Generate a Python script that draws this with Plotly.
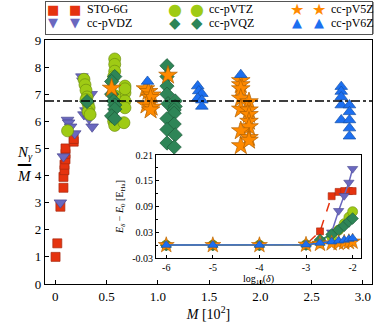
import plotly.graph_objects as go

# ---------------- data (main panel) ----------------
names = ["STO-6G", "cc-pVDZ", "cc-pVTZ", "cc-pVQZ", "cc-pV5Z", "cc-pV6Z"]

sto_x = [0.003, 0.02, 0.05, 0.08, 0.08, 0.09, 0.09, 0.10, 0.10, 0.10, 0.18, 0.18]
sto_y = [1.0, 1.5, 2.85, 3.55, 3.95, 4.2, 4.4, 4.6, 4.8, 5.0, 5.25, 5.35]

dz_x = [0.05, 0.08, 0.12, 0.13, 0.15, 0.19, 0.26, 0.27, 0.28, 0.30, 0.33, 0.36, 0.35]
dz_y = [3.0, 4.7, 6.05, 5.95, 5.8, 5.55, 7.65, 7.5, 6.25, 6.4, 6.1, 5.8, 7.0]

tz_x = [0.12, 0.28, 0.29, 0.30, 0.31, 0.32, 0.33, 0.32, 0.34, 0.30,
        0.58, 0.58, 0.58, 0.57, 0.68, 0.68, 0.68, 0.68, 0.57, 0.58, 0.67, 0.68, 0.58]
tz_y = [5.65, 7.55, 7.35, 7.15, 6.9, 6.65, 6.5, 6.35, 6.25, 6.8,
        8.3, 8.1, 7.85, 7.65, 7.3, 7.05, 6.75, 6.5, 6.0, 5.85, 5.95, 7.2, 6.95]

qz_x = [0.31, 0.58, 0.55, 0.55, 0.57, 0.58, 0.58, 0.55, 0.58,
        1.09, 1.09, 1.09, 1.09, 1.10, 1.17, 1.17, 1.16, 1.16, 1.09, 1.16, 1.09, 1.17, 1.09, 1.16]
qz_y = [6.73, 7.65, 7.47, 7.0, 6.75, 6.6, 6.45, 6.2, 6.1,
        8.05, 7.65, 7.3, 7.0, 6.65, 6.75, 6.55, 6.42, 6.3, 6.1, 5.9, 5.7, 5.5, 5.2, 5.05]

v5_x = [0.55, 1.10, 0.88, 0.91, 0.94, 0.93, 0.89, 0.94, 0.93,
        1.81, 1.81, 1.81, 1.81, 1.89, 1.81, 1.89, 1.89, 1.89, 1.89, 1.81, 1.89, 1.81, 1.89]
v5_y = [7.22, 7.7, 7.2, 7.1, 6.97, 6.88, 6.6, 6.52, 6.42,
        7.5, 7.35, 7.2, 6.85, 6.72, 6.45, 6.42, 6.25, 6.0, 5.8, 5.65, 5.4, 5.1, 5.3]

v6_x = [0.90, 1.39, 1.40, 1.43, 1.39, 1.43, 1.43, 1.81,
        2.79, 2.79, 2.79, 2.79, 2.87, 2.87, 2.79, 2.87, 2.87, 2.87]
v6_y = [7.47, 7.3, 7.12, 7.02, 6.85, 6.78, 6.55, 7.72,
        7.28, 7.1, 6.9, 6.6, 6.6, 6.35, 6.05, 6.05, 5.75, 5.45]

ref_line = 6.75
x_ticks = [0, 0.5, 1.0, 1.5, 2.0, 2.5, 3.0]
x_ticklabels = ["0", "0.5", "1.0", "1.5", "2.0", "2.5", "3.0"]
y_ticks = [0, 1, 2, 3, 4, 5, 6, 7, 8, 9]

# ---------------- data (inset) ----------------
log_delta = [-6, -5, -4, -3, -2.7, -2.45, -2.3, -2.18, -2.08, -2.0]
err_sto = [0.0, 0.0, 0.0, 0.001, 0.032, 0.114, 0.124, 0.126, 0.126, 0.126]
err_dz = [0.0, 0.0, 0.0, 0.001, 0.006, 0.03, 0.08, 0.115, 0.146, 0.178]
err_tz = [0.0, 0.0, 0.0, 0.001, 0.005, 0.02, 0.035, 0.05, 0.065, 0.078]
err_qz = [0.0, 0.0, 0.0, 0.001, 0.012, 0.025, 0.035, 0.045, 0.055, 0.062]
err_5z = [0.0, 0.0, 0.0, 0.001, 0.003, 0.004, 0.005, 0.006, 0.007, 0.008]
err_6z = [0.0, 0.0, 0.0, 0.001, 0.005, 0.008, 0.01, 0.012, 0.014, 0.016]
inset_xticks = [-6, -5, -4, -3, -2]
inset_xticklabels = ["-6", "-5", "-4", "-3", "-2"]
inset_yticks = [-0.03, 0.03, 0.09, 0.15, 0.21]
inset_yticklabels = ["-0.03", "0.03", "0.09", "0.15", "0.21"]

# ---------------- styles ----------------
colors = ["#e5330f", "#6a68bf", "#9fcb14", "#2e8557", "#ff8a00", "#1c6ff0"]
edges = ["#a82a10", "#4a4890", "#6f8f10", "#1f5a3a", "#b06000", "#1450a8"]
symbols = ["square", "triangle-down", "circle", "diamond", "star", "triangle-up"]
sizes = [9, 11, 12, 11, 14, 11]
glyphs = ["■", "▼", "●", "◆", "★", "▲"]
glyph_sizes = [13, 13, 16, 15, 16, 13]
inset_dash = ["dash", "solid", "dash", "solid", "solid", "solid"]
FONT = "Liberation Serif"

main_x = [sto_x, dz_x, tz_x, qz_x, v5_x, v6_x]
main_y = [sto_y, dz_y, tz_y, qz_y, v5_y, v6_y]
inset_y = [err_sto, err_dz, err_tz, err_qz, err_5z, err_6z]

fig = go.Figure()

for i in range(6):
    fig.add_trace(go.Scatter(
        x=main_x[i], y=main_y[i], mode="markers", name=names[i], showlegend=False,
        marker=dict(symbol=symbols[i], size=sizes[i], color=colors[i],
                    line=dict(color=edges[i], width=0.7)),
        xaxis="x", yaxis="y"))

# reference line
fig.add_trace(go.Scatter(
    x=[-0.1, 3.09], y=[ref_line, ref_line], mode="lines", showlegend=False,
    line=dict(color="black", width=1.3, dash="dashdot"), xaxis="x", yaxis="y"))

for i in range(6):
    fig.add_trace(go.Scatter(
        x=log_delta, y=inset_y[i], mode="lines+markers", showlegend=False,
        line=dict(color=colors[i], width=1.5, dash=inset_dash[i]),
        marker=dict(symbol=symbols[i], size=sizes[i] - 2, color=colors[i],
                    line=dict(color=edges[i], width=0.6)),
        xaxis="x2", yaxis="y2"))

W, H = 374, 328
L, R, T, B = 45, 2, 40, 44
pw, ph = W - L - R, H - T - B

def px_x(p):
    return (p - L) / pw

def px_y(p):
    return (H - B - p) / ph

axis_common = dict(showline=True, mirror=True, linecolor="black",
                   ticks="inside", tickcolor="black", showgrid=False, zeroline=False)

fig.update_layout(
    width=W, height=H,
    margin=dict(l=L, r=R, t=T, b=B, autoexpand=False),
    paper_bgcolor="white", plot_bgcolor="white",
    font=dict(family=FONT, size=13, color="black"),
    showlegend=False,
    xaxis=dict(range=[-0.1, 3.09], tickvals=x_ticks, ticktext=x_ticklabels,
               ticklen=4, tickfont=dict(size=13), linewidth=1.2,
               title=dict(text="<i>M</i> [10<sup>2</sup>]", font=dict(size=14), standoff=6),
               **axis_common),
    yaxis=dict(range=[0, 9], tickvals=y_ticks, ticklen=4, tickfont=dict(size=13),
               linewidth=1.2, **axis_common),
    xaxis2=dict(domain=[px_x(156), px_x(361)], anchor="y2",
                range=[-6.22, -1.82], tickvals=inset_xticks, ticktext=inset_xticklabels,
                ticklen=3, tickfont=dict(size=10), linewidth=1,
                title=dict(text="log<sub>10</sub>(<i>δ</i>)", font=dict(size=10), standoff=0),
                **axis_common),
    yaxis2=dict(domain=[px_y(258), px_y(155)], anchor="x2",
                range=[-0.03, 0.21], tickvals=inset_yticks, ticktext=inset_yticklabels,
                ticklen=3, tickfont=dict(size=10), linewidth=1,
                minor=dict(dtick=0.03, tick0=0, ticks="inside", ticklen=2, tickcolor="black"),
                title=dict(text="<i>E<sub>δ</sub></i> − <i>E</i><sub>0</sub> [E<sub>Ha</sub>]",
                           font=dict(size=10), standoff=6),
                **axis_common),
)

# ---------------- legend (framed box drawn with annotations) ----------------
def box(x0, y0, w, h, fill, edge=None):
    fig.add_annotation(x=px_x(x0), y=px_y(y0), xref="paper", yref="paper",
                       xanchor="left", yanchor="top", showarrow=False, text=".",
                       width=w, height=h, bgcolor=fill, borderpad=0,
                       bordercolor=edge if edge else fill, borderwidth=1 if edge else 0,
                       font=dict(size=6, color=fill))

box(47.5, 2.5, 326, 32, "#9a9a9a")
box(45, 0.5, 326, 32, "white", "#555555")

col_x = [53, 175, 297]
row_y = [9, 23]
for i in range(6):
    col, row = i // 2, i % 2
    for dx in (0, 22):
        fig.add_annotation(x=px_x(col_x[col] + dx), y=px_y(row_y[row]),
                           xref="paper", yref="paper", showarrow=False,
                           text=glyphs[i], xanchor="center", yanchor="middle",
                           font=dict(family="DejaVu Sans", size=glyph_sizes[i],
                                     color=colors[i]))
    fig.add_annotation(x=px_x(col_x[col] + 32), y=px_y(row_y[row]),
                       xref="paper", yref="paper", showarrow=False,
                       text=names[i], xanchor="left", yanchor="middle",
                       font=dict(family=FONT, size=12))

# y-axis label as a fraction
fig.add_annotation(x=px_x(15), y=px_y(153), xref="paper", yref="paper",
                   text="<i>N<sub>γ</sub></i>", showarrow=False, font=dict(size=15))
fig.add_annotation(x=px_x(15), y=px_y(176), xref="paper", yref="paper",
                   text="<i>M</i>", showarrow=False, font=dict(size=15))
fig.add_annotation(x=px_x(15), y=px_y(164), xref="paper", yref="paper",
                   text="<b>—</b>", showarrow=False,
                   font=dict(size=15, family="DejaVu Sans", color="black"))

fig.write_html("out.html", config={"displayModeBar": False},
               post_script="document.body.style.margin='0';document.body.style.padding='0';")
